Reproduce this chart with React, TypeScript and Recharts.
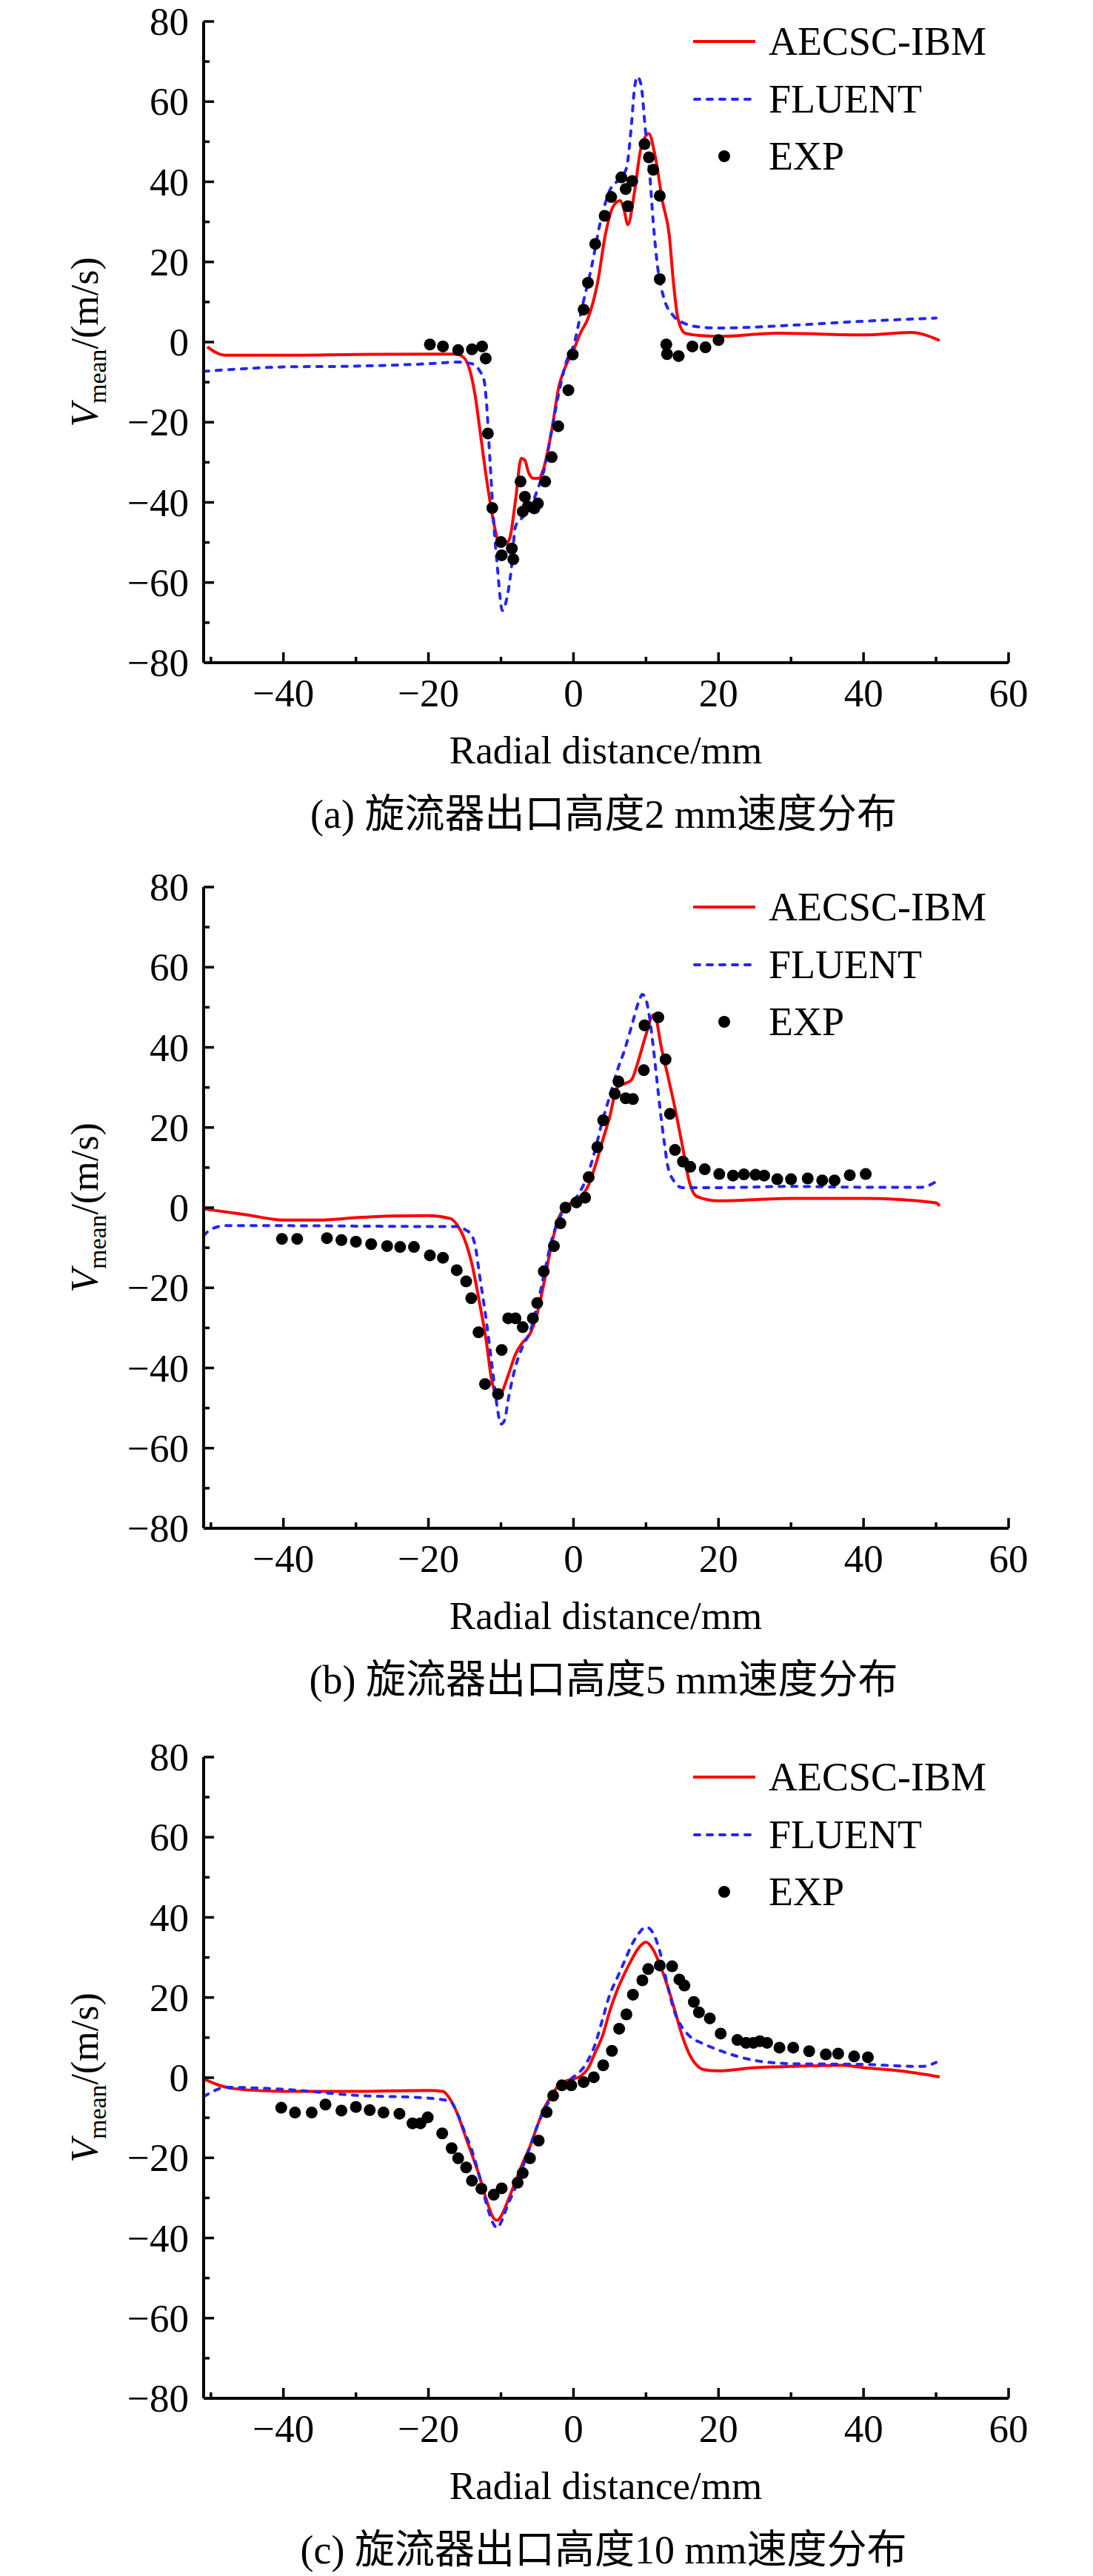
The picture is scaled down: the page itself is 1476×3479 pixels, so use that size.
import React from 'react';
import { ComposedChart, Line, Scatter, XAxis, YAxis } from 'recharts';

const SERIF = '"Liberation Serif", "Times New Roman", serif';
const CAPTION_FONT = '"Liberation Serif", "Noto Sans CJK SC", serif';

const xTicks = [-50, -40, -30, -20, -10, 0, 10, 20, 30, 40, 50, 60];
const yTicks = [-80, -70, -60, -50, -40, -30, -20, -10, 0, 10, 20, 30, 40, 50, 60, 70, 80];
const seriesNames = ['AECSC-IBM', 'FLUENT', 'EXP'];
const captions = [
    '(a) 旋流器出口高度2 mm速度分布',
    '(b) 旋流器出口高度5 mm速度分布',
    '(c) 旋流器出口高度10 mm速度分布',
];

// (a) 2 mm
const ibmA = [
    [-50.5, -1.2], [-48, -3.3], [-40, -3.3], [-30, -3.1], [-20, -3.0], [-16.2, -3.0], [-15.1, -3.9],
    [-14.3, -7], [-13.5, -14], [-13, -20.6], [-12, -34], [-11, -45], [-10.3, -50], [-9.5, -50.5],
    [-8.8, -49], [-8, -39.6], [-7.2, -29], [-6.7, -29.5], [-6.2, -32.5], [-5.5, -34], [-4.8, -34],
    [-4.2, -32], [-3, -22], [-2, -11], [-1.3, -7], [0, -2], [1, 2.4], [2, 5.9], [3.3, 14.6],
    [4.4, 26.8], [5.4, 33.6], [6.4, 35.3], [6.9, 33.6], [7.5, 29.3], [8.4, 37.3], [9.3, 48.3],
    [10.4, 52], [11.2, 47], [12.3, 34.9], [13.2, 26.8], [13.8, 14.6], [14.4, 5.9], [15.4, 2.2],
    [17.7, 1.6], [20, 1.4], [28, 2.2], [40, 1.8], [46.5, 2.4], [50.5, 0.4],
];
const fluentA = [
    [-51, -7.3], [-45, -6.6], [-40, -6.2], [-30, -6], [-20, -5.4], [-15.9, -5], [-14, -5.4],
    [-13, -7], [-12.3, -9.8], [-12, -15], [-11.5, -30], [-11, -45], [-10.5, -56], [-9.8, -67],
    [-9.2, -64], [-8.6, -57], [-8, -46], [-7, -43.7], [-6, -41.6], [-5, -37], [-4, -31.5],
    [-3, -22], [-2, -12.5], [-1, -5], [0, -0.9], [1.3, 9.6], [2.5, 18.8], [3.7, 29.9], [5, 37.8],
    [6.5, 41], [7.3, 43.4], [8, 54.4], [8.4, 63.1], [8.8, 66.2], [9.3, 64.4], [9.9, 53.3],
    [10.5, 42.3], [11, 29.9], [11.6, 18.8], [12.4, 11.4], [13.8, 6.5], [15.4, 4.6], [17.7, 3.7],
    [20, 3.5], [30, 4.2], [40, 5.2], [50, 6],
];
const expA = [
    [-19.8, -0.6], [-18, -1.1], [-15.9, -2], [-14, -1.8], [-12.6, -1.1], [-12.1, -4.1],
    [-11.8, -22.8], [-11.2, -41.4], [-10, -49.9], [-9.9, -53.2], [-8.5, -51.5], [-8.3, -54.2],
    [-7.3, -34.8], [-6.7, -38.6], [-7.0, -42.3], [-6.3, -41], [-5.4, -41.5], [-4.9, -40.3],
    [-3.9, -34.8], [-3.0, -28.7], [-2.1, -21], [-0.7, -12], [-0.1, -3.1], [1.4, 8.1], [2.0, 14.8],
    [3.0, 24.5], [4.3, 31.5], [5.2, 36.2], [6.6, 41.1], [7.2, 38.2], [7.5, 33.9], [8.1, 40.2],
    [9.8, 49.4], [10.4, 46.1], [11.0, 43], [11.9, 36.5], [11.9, 15.7], [12.8, -0.6], [12.9, -3],
    [14.5, -3.5], [16.4, -1.1], [18.2, -1.3], [20, 0.5],
];

// (b) 5 mm
const ibmB = [
    [-51, -0.3], [-45, -1.8], [-40, -3.1], [-35, -3.1], [-30, -2.5], [-25, -2.1], [-20, -2.0],
    [-17, -2.7], [-16, -4.4], [-15, -8], [-14, -14.1], [-13, -23.3], [-12, -33.6], [-11.3, -42.8],
    [-10.5, -46.9], [-10, -46.4], [-9, -41.8], [-8, -36.6], [-7, -33.6], [-6, -31.5], [-5, -26.4],
    [-4, -18.2], [-3, -9], [-2, -2.4], [-1, 0.2], [0, 1.7], [1, 2.8], [2, 5.3], [3, 10.4],
    [4, 16.6], [5, 22.7], [6, 29.9], [7, 30.9], [8, 31.9], [9, 37], [10, 43.2], [11, 48.1],
    [11.5, 46.3], [12, 41.1], [13, 33], [14, 24.8], [15, 15.6], [16, 6.3], [17, 2.8], [20, 1.7],
    [30, 2.3], [40, 2.3], [50, 1.2], [50.5, 0.4],
];
const fluentB = [
    [-51, -7], [-50, -5.4], [-48, -4.5], [-40, -4.5], [-30, -4.6], [-20, -4.7], [-16, -4.7],
    [-15, -5.4], [-14, -7], [-13.5, -10], [-13, -16.2], [-12, -28.5], [-11, -42.8], [-10.5, -50],
    [-10, -54], [-9.5, -53], [-9, -47.9], [-8, -39.7], [-7, -34.6], [-6, -31], [-5, -24.4],
    [-4, -16.2], [-3, -8], [-2, -2.9], [-1, 0.2], [0, 1.7], [1, 4.3], [2, 8.4], [3, 14.5],
    [4, 21.7], [5, 27.8], [6, 34], [7, 39.1], [8, 45.2], [9, 51.4], [9.5, 53.2], [10, 51.9],
    [10.5, 47.3], [11, 40.1], [11.5, 31.9], [12, 23.7], [12.5, 16.6], [13, 10.4], [14, 6.3],
    [15, 5], [20, 5], [30, 5.3], [40, 5.1], [48, 5.1], [50, 6.5],
];
const expB = [
    [-40.2, -7.8], [-38.1, -7.8], [-34, -7.6], [-32, -8.1], [-30, -8.5], [-27.9, -9.1],
    [-25.7, -9.6], [-23.9, -9.8], [-22, -9.8], [-19.8, -11.9], [-18, -12.5], [-16.1, -15.6],
    [-14.8, -18.4], [-14.1, -22.6], [-13.1, -31.1], [-12.2, -44], [-10.4, -46.5], [-9.9, -35.5],
    [-9, -27.6], [-8, -27.6], [-7, -29.8], [-5.6, -27.6], [-5, -23.8], [-4.1, -15.9], [-2.7, -9.6],
    [-1.8, -3.9], [-1.1, 0], [0.4, 1.3], [1.6, 2.5], [2.1, 7.6], [3.3, 15.1], [4.1, 21.8],
    [5.7, 28.4], [6.2, 31.5], [7.2, 27.3], [8.2, 27.1], [9.7, 34.3], [9.8, 45.5], [11.7, 47.5],
    [12.7, 37], [13.3, 23.4], [14, 14.4], [15.1, 11.5], [16.1, 10.2], [18.1, 9.6], [20.1, 8.4],
    [22, 8], [23.5, 8.3], [25.1, 8.2], [26.3, 8], [28.1, 7.1], [30, 7.1], [32.3, 7.3], [34.3, 6.8],
    [36, 6.8], [38.1, 8.1], [40.3, 8.4],
];

// (c) 10 mm
const ibmC = [
    [-51, -0.3], [-49, -1.8], [-47, -2.7], [-40, -3.4], [-30, -3.4], [-20, -3.2], [-18, -3.4],
    [-17, -5.4], [-16, -9], [-15, -14.1], [-14, -19.2], [-13, -24.4], [-12, -30.5], [-11, -35.1],
    [-10.5, -35.6], [-10, -34.6], [-9, -30.5], [-8, -25.9], [-7, -21.3], [-6, -17.2], [-5, -12.1],
    [-4, -7.5], [-3, -4.4], [-2, -1.8], [-1, -0.8], [0, -0.3], [1, 0.4], [2, 2.3], [3, 6.3],
    [4, 10.4], [5, 16.6], [6, 21.7], [7, 25.8], [8, 29.4], [9, 32.4], [10, 33.8], [11, 31.9],
    [12, 27.8], [13, 22.7], [14, 16.6], [15, 10.4], [16, 5.8], [17, 3.1], [18, 2], [20, 1.7],
    [25, 2.5], [30, 2.8], [37, 3.1], [40, 2.5], [45, 1.7], [50.5, 0.2],
];
const fluentC = [
    [-51, -4.7], [-50, -3.7], [-48, -2.4], [-40, -2.9], [-30, -4.4], [-20, -5.1], [-17, -5.9],
    [-16, -9], [-15, -13.6], [-14, -18.2], [-13, -24.4], [-12, -31.5], [-11, -36.6], [-10.5, -37.5],
    [-10, -36.1], [-9, -31.5], [-8, -27.4], [-7, -22.3], [-6, -17.2], [-5, -12.1], [-4, -8],
    [-3, -4.9], [-2, -2.9], [-1, -1.3], [0, 0.2], [1, 1.7], [2, 4.3], [3, 8.4], [4, 14.5],
    [5, 20.7], [6, 24.8], [7, 28.9], [8, 33], [9, 36], [10, 37.6], [11, 36], [12, 30.9], [13, 22.7],
    [14, 16.1], [15, 12.5], [16, 10.4], [18, 8.4], [20, 6.9], [25, 4.3], [30, 3.5], [40, 3.3],
    [48, 2.8], [50, 3.8],
];
const expC = [
    [-40.3, -7.5], [-38.4, -8.7], [-36.1, -8.7], [-34.2, -6.7], [-32, -8.2], [-30, -7.3],
    [-28.1, -8.1], [-26.2, -8.7], [-24, -9], [-22.2, -11.4], [-21.1, -11.4], [-20.1, -9.9],
    [-18.1, -13.9], [-16.8, -17.6], [-15.9, -20.1], [-14.8, -22.4], [-14, -25.7], [-12.7, -27.7],
    [-11, -29.2], [-9.9, -27.6], [-7.7, -26.2], [-7, -23.8], [-6, -20.1], [-4.8, -15.7],
    [-3.7, -8.6], [-2.8, -4.5], [-1.6, -1.9], [-0.3, -1.9], [1.4, -1.1], [2.8, 0.1], [4.1, 3.1],
    [5.3, 6.7], [6.3, 12.2], [7.3, 15.8], [8.2, 20.7], [9.5, 24.3], [10.3, 27.1], [11.9, 28],
    [13.6, 27.8], [14.6, 24.5], [15.3, 23], [16.6, 18.9], [17.3, 16.3], [18.8, 14.8], [20.3, 11],
    [22.6, 9.4], [23.8, 8.7], [24.8, 8.7], [25.7, 9.1], [26.7, 8.7], [28.4, 7.5], [30.3, 7.5],
    [32.5, 6.6], [34.8, 5.8], [36.5, 6], [38.7, 5.3], [40.6, 5.1],
];

const toPts = (arr: number[][]) => arr.map(([x, y]) => ({ x, y }));
const fmt = (v: number) => (v < 0 ? '\u2212' + Math.abs(v) : String(v));

const W = 1476;
const H = 1170;
const PLOT_TOP = 29;
const PLOT_H = 866;
const PLOT_L = 275;
const PLOT_R = 1362;
const RED = '#ff0000';
const BLUE = '#2626f2';
const DASH = '7 10';

const XTick = (props: any) => {
    const { x, y, payload } = props;
    const v = payload.value;
    const major = v % 20 === 0;
    return (
        <g>
            <line x1={x} y1={y} x2={x} y2={y - (major ? 14 : 8)} stroke="#000" strokeWidth={3.5} />
            {major && (
                <text x={x} y={y + 59} textAnchor="middle" fontSize={53} fontFamily={SERIF} fill="#000">
                    {fmt(v)}
                </text>
            )}
        </g>
    );
};

const YTick = (props: any) => {
    const { x, y, payload } = props;
    const v = payload.value;
    const major = v % 20 === 0;
    return (
        <g>
            <line x1={x} y1={y} x2={x + (major ? 14 : 8)} y2={y} stroke="#000" strokeWidth={3.5} />
            {major && (
                <text x={x - 20} y={y + 18} textAnchor="end" fontSize={53} fontFamily={SERIF} fill="#000">
                    {fmt(v)}
                </text>
            )}
        </g>
    );
};

const Dot = (props: any) => <circle cx={props.cx} cy={props.cy} r={8} fill="#000" />;

function Panel(props: { top: number, ibm: number[][], fluent: number[][], exp: number[][], caption: string }) {
    const legendY = [PLOT_TOP + 27, PLOT_TOP + 105, PLOT_TOP + 182];
    return (
        <div style={{ position: 'absolute', left: 0, top: props.top, width: W, height: H }}>
            <ComposedChart
                width={W}
                height={H}
                margin={{ top: PLOT_TOP, right: W - PLOT_R, bottom: H - PLOT_TOP - PLOT_H - 100, left: PLOT_L - 200 }}
            >
                <XAxis
                    type="number" dataKey="x" domain={[-51, 60]} ticks={xTicks} interval={0} allowDataOverflow
                    tick={<XTick />} tickSize={0} tickMargin={0} tickLine={false}
                    axisLine={{ stroke: '#000', strokeWidth: 4 }} height={100}
                />
                <YAxis
                    type="number" dataKey="y" domain={[-80, 80]} ticks={yTicks} interval={0} allowDataOverflow
                    tick={<YTick />} tickSize={0} tickMargin={0} tickLine={false}
                    axisLine={{ stroke: '#000', strokeWidth: 4 }} width={200}
                />
                <Line data={toPts(props.ibm)} dataKey="y" type="monotone" stroke={RED} strokeWidth={4}
                    dot={false} activeDot={false} isAnimationActive={false} />
                <Line data={toPts(props.fluent)} dataKey="y" type="monotone" stroke={BLUE} strokeWidth={4}
                    strokeDasharray={DASH} strokeLinecap="round" dot={false} activeDot={false} isAnimationActive={false} />
                <Scatter data={toPts(props.exp)} dataKey="y" fill="#000" shape={Dot} isAnimationActive={false} />
            </ComposedChart>
            <svg width={W} height={H} style={{ position: 'absolute', left: 0, top: 0, pointerEvents: 'none' }}>
                <text transform="rotate(-90 132 462)" x={132} y={462} textAnchor="middle" fontFamily={SERIF} fontSize={52}>
                    <tspan fontStyle="italic">V</tspan>
                    <tspan fontSize={34} dy={11}>mean</tspan>
                    <tspan dy={-11}>/(m/s)</tspan>
                </text>
                <text x={818} y={PLOT_TOP + PLOT_H + 136} textAnchor="middle" fontFamily={SERIF} fontSize={53}>
                    Radial distance/mm
                </text>
                <text x={815} y={PLOT_TOP + PLOT_H + 223} textAnchor="middle" fontFamily={CAPTION_FONT} fontSize={54}>
                    {props.caption}
                </text>
                <line x1={936} y1={legendY[0]} x2={1020} y2={legendY[0]} stroke={RED} strokeWidth={4} />
                <line x1={938} y1={legendY[1]} x2={1020} y2={legendY[1]} stroke={BLUE} strokeWidth={4}
                    strokeDasharray={DASH} strokeLinecap="round" />
                <circle cx={978} cy={legendY[2]} r={8} fill="#000" />
                {seriesNames.map((n, i) => (
                    <text key={n} x={1038} y={legendY[i] + 18} fontFamily={SERIF} fontSize={54}>{n}</text>
                ))}
            </svg>
        </div>
    );
}

export default function App() {
    return (
        <div style={{ position: 'absolute', left: 0, top: 0, width: W, height: 3479, background: '#fff' }}>
            <Panel top={0} ibm={ibmA} fluent={fluentA} exp={expA} caption={captions[0]} />
            <Panel top={1169} ibm={ibmB} fluent={fluentB} exp={expB} caption={captions[1]} />
            <Panel top={2344} ibm={ibmC} fluent={fluentC} exp={expC} caption={captions[2]} />
        </div>
    );
}
